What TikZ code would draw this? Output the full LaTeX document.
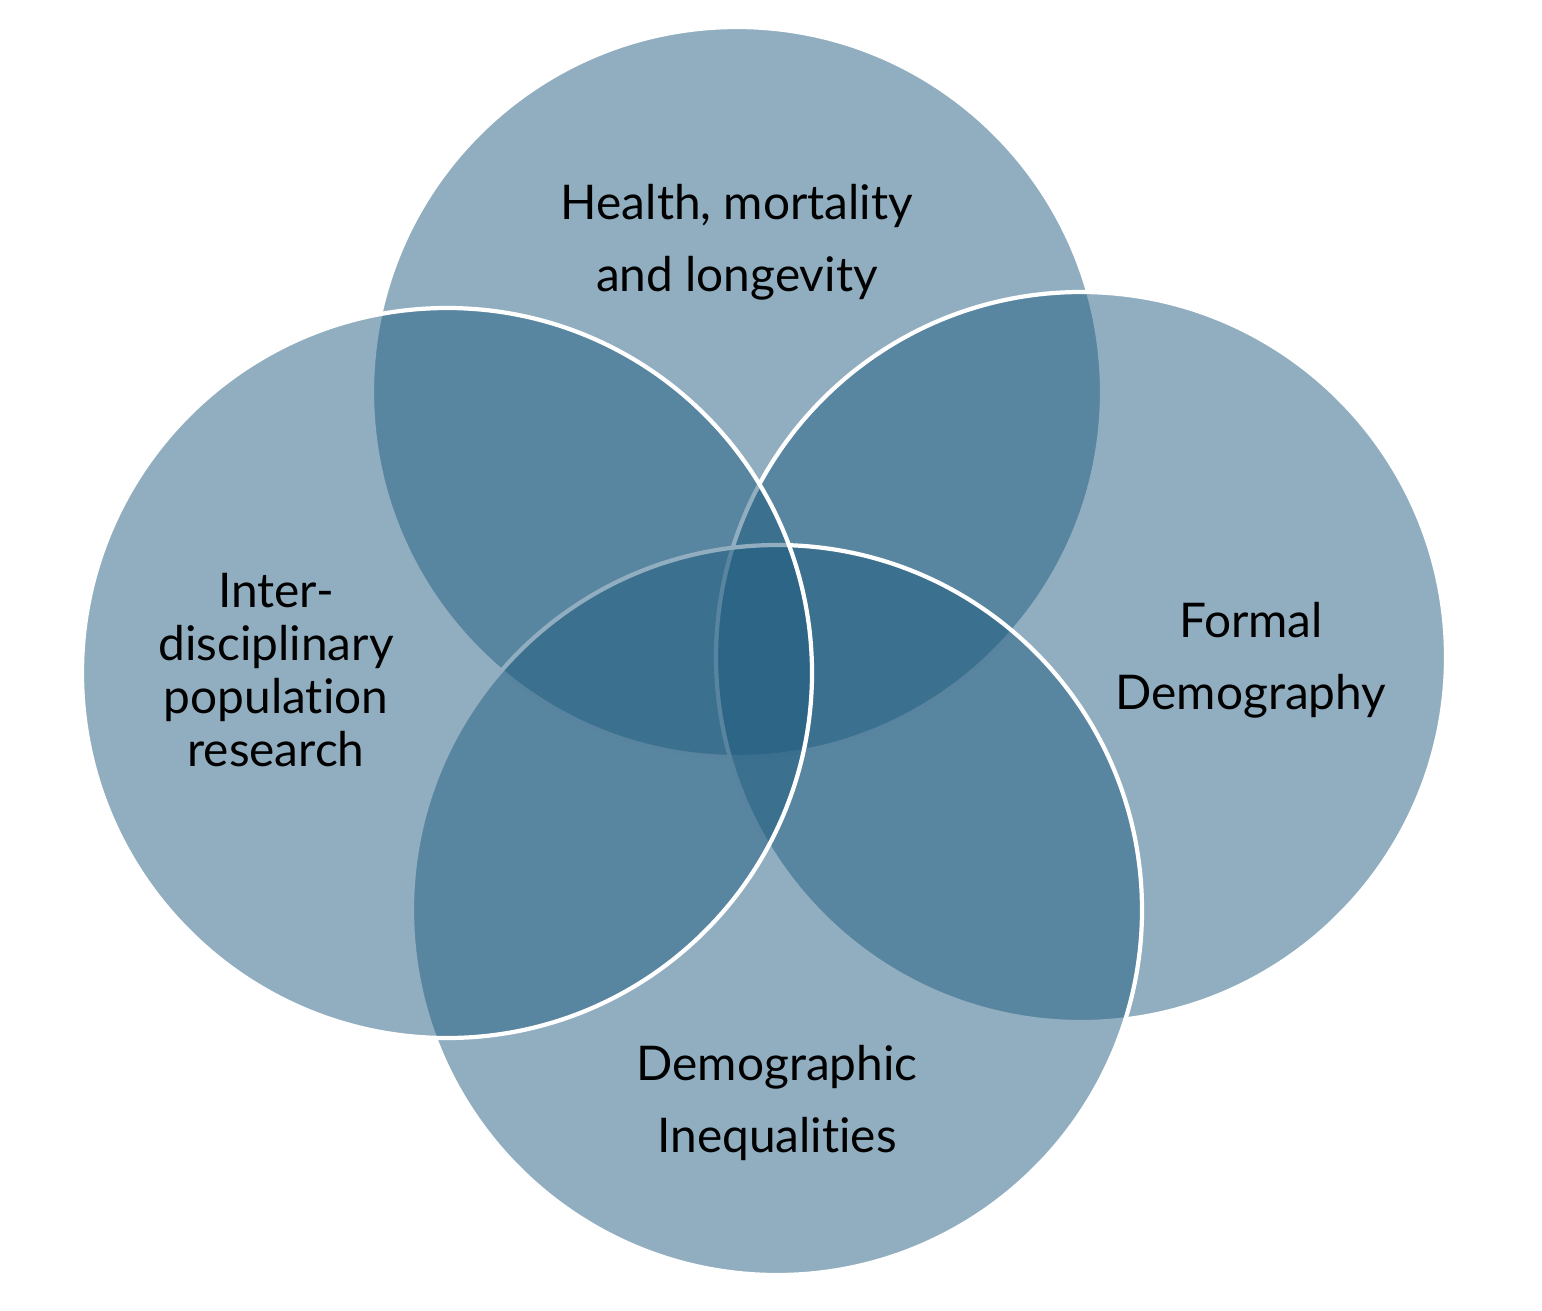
\documentclass[tikz,border=0pt]{standalone}
\usepackage{fontspec}
\setmainfont{Lato}[Ligatures={NoCommon,NoRequired,NoContextual}]
\usetikzlibrary{positioning}
\definecolor{vnfill}{HTML}{1E5A7E}
\definecolor{vnrim} {HTML}{FFFFFF}
\definecolor{vntext}{HTML}{000000}
\tikzset{
  vncirc/.style={fill=vnfill, fill opacity=0.49, draw=vnrim, draw opacity=1,
    line width=1.2pt},
  vnlabel/.style={text=vntext, align=center, inner sep=0pt,
    font=\fontsize{13.6}{20.5}\selectfont},
  vntight/.style={vnlabel, font=\fontsize{13.6}{15}\selectfont}
}
\begin{document}
\begin{tikzpicture}
  \useasboundingbox (0,0) rectangle (15.42,-13.10);
  \coordinate (ctop)    at (7.37,-3.92);
  \coordinate (cright)  at (10.81,-6.57);
  \coordinate (cbottom) at (7.77,-9.10);
  \coordinate (cleft)   at (4.47,-6.73);
  \draw[vncirc] (ctop)    circle (3.65);
  \draw[vncirc] (cright)  circle (3.65);
  \draw[vncirc] (cbottom) circle (3.65);
  \draw[vncirc] (cleft)   circle (3.65);
  \node[vnlabel] (health) at (7.37,-2.42) {Health, mortality\\and longevity};
  \node[vnlabel] (formal) at (12.51,-6.60) {Formal\\Demography};
  \node[vnlabel] (ineq)   at (7.77,-11.03) {Demographic\\Inequalities};
  \node[vntight] (inter)  at (2.76,-6.70) {Inter-\\disciplinary\\population\\research};
\end{tikzpicture}
\end{document}
